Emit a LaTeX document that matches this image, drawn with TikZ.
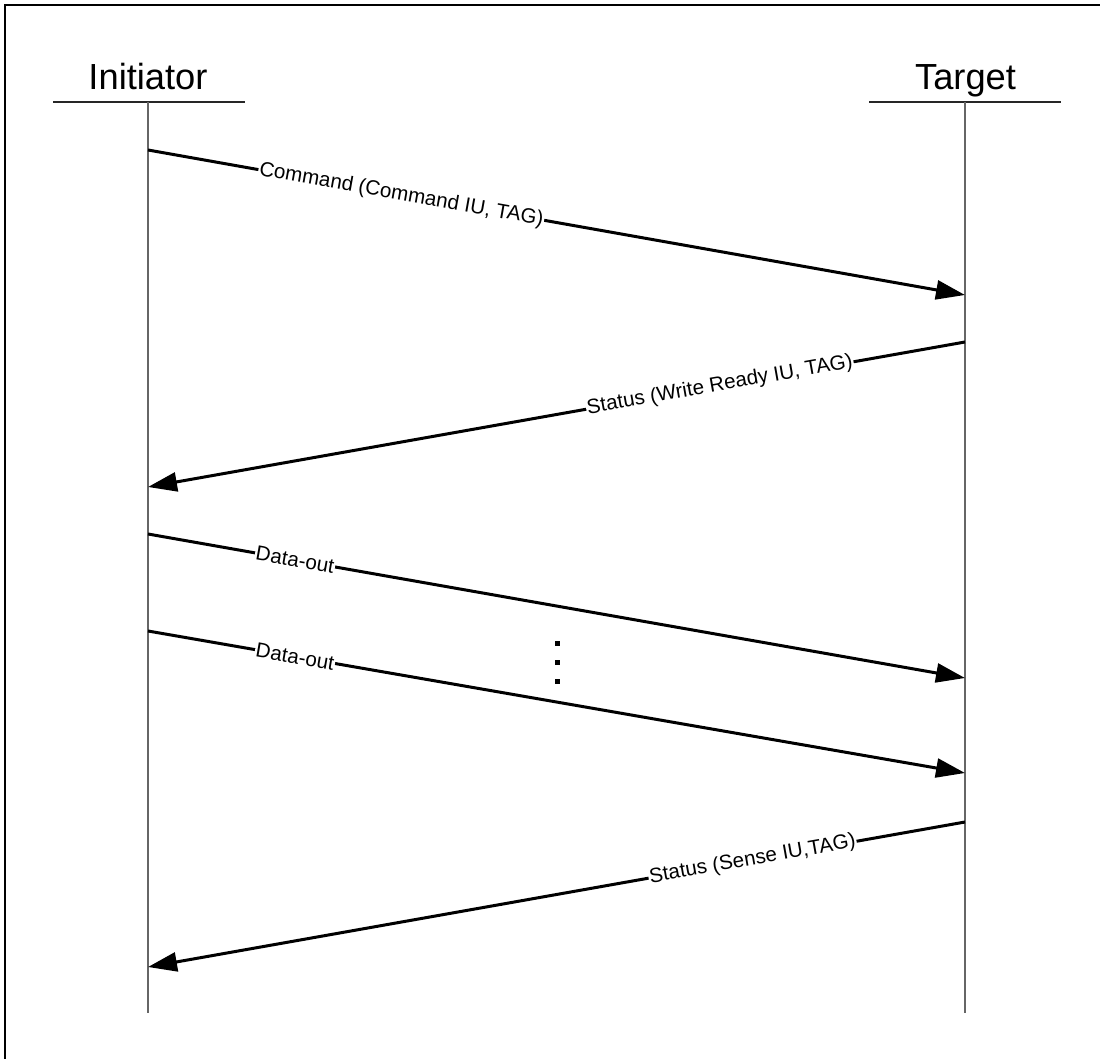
\documentclass[tikz,border=0pt]{standalone}
\usepackage{fontspec}
\setmainfont{Liberation Sans}
\usetikzlibrary{arrows.meta}
\begin{document}
\begin{tikzpicture}[x=1pt,y=-1pt,
  lifeline/.style={draw=black!60, line width=1.4pt},
  headrule/.style={draw=black!85, line width=1.2pt},
  actor/.style={font=\fontsize{36.3}{40}\selectfont, inner sep=0pt, anchor=base},
  msg/.style={draw=black, line width=3pt, -{Triangle[length=29pt,width=19pt]}},
  msglabel/.style={font=\fontsize{20.6}{24}\selectfont, fill=white, inner sep=1pt, sloped},
  dotmark/.style={fill=black}
]
\useasboundingbox (0,0) rectangle (1100,1059);
\clip (0,0) rectangle (1100,1059);
% outer frame
\draw[line width=2.5pt] (5,5) rectangle (1120,1080);

% participants
\node[actor] (init) at (148,90) {Initiator};
\node[actor] (targ) at (965.5,90) {Target};
\draw[headrule] (53,102) -- (245,102);
\draw[headrule] (869,102) -- (1061,102);

% lifelines
\coordinate (itop) at (148,102);
\coordinate (ibot) at (148,1013);
\coordinate (ttop) at (965,102);
\coordinate (tbot) at (965,1013);
\draw[lifeline] (itop) -- (ibot);
\draw[lifeline] (ttop) -- (tbot);

% message end points
\coordinate (i1) at (148,150);  \coordinate (t1) at (965,295);
\coordinate (t2) at (965,342);  \coordinate (i2) at (148,487);
\coordinate (i3) at (148,534);  \coordinate (t3) at (965,678);
\coordinate (i4) at (148,631);  \coordinate (t4) at (965,773);
\coordinate (t5) at (965,822);  \coordinate (i5) at (148,967);

% messages
\draw[msg] (i1) -- node[msglabel, pos=0.31] {Command (Command IU, TAG)} (t1);
\draw[msg] (t2) -- node[msglabel, pos=0.30] {Status (Write Ready IU, TAG)} (i2);
\draw[msg] (i3) -- node[msglabel, pos=0.18] {Data-out} (t3);
\draw[msg] (i4) -- node[msglabel, pos=0.18] {Data-out} (t4);
\draw[msg] (t5) -- node[msglabel, pos=0.26] {Status (Sense IU,TAG)} (i5);

% continuation dots
\fill[dotmark] (554.5,640.5) rectangle ++(5,5);
\fill[dotmark] (554.5,659.5) rectangle ++(5,5);
\fill[dotmark] (554.5,678.5) rectangle ++(5,5);
\end{tikzpicture}
\end{document}
